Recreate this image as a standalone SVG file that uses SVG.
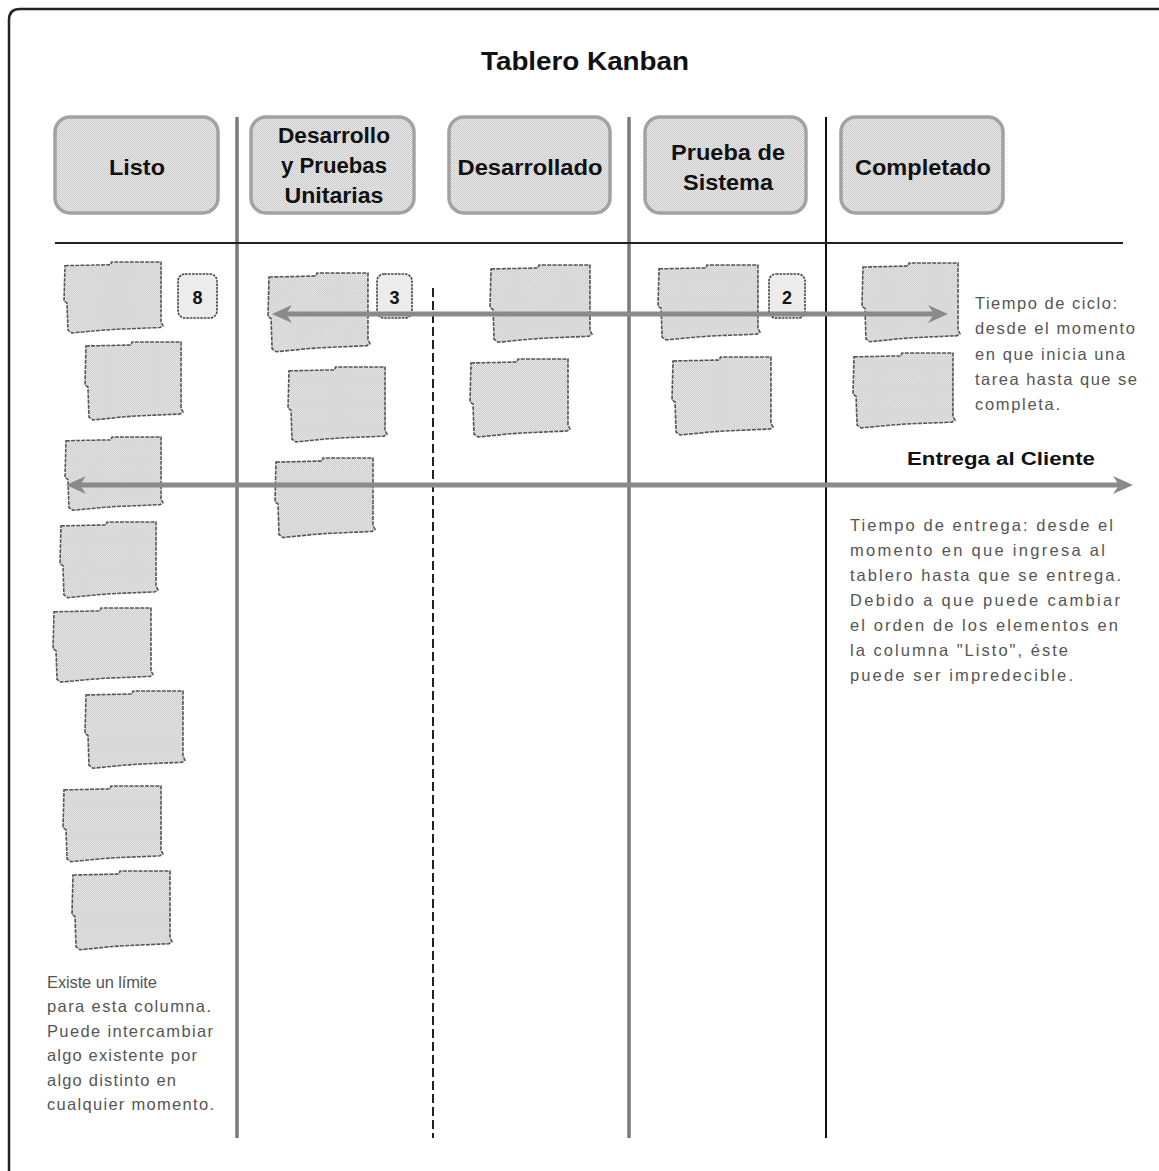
<svg xmlns="http://www.w3.org/2000/svg" xmlns:xlink="http://www.w3.org/1999/xlink" width="1159" height="1171" viewBox="0 0 1159 1171">
<style>
.hdr{fill:url(#dots);stroke:#a2a2a2;stroke-width:3.5}
.ht{font-family:"Liberation Sans",Arial,sans-serif;font-weight:bold;font-size:22px;fill:#111;text-anchor:middle}
.card{fill:url(#dots);stroke:#555;stroke-width:1.6;stroke-dasharray:4 1.2}
.lim{fill:#ececec;stroke:#444;stroke-width:1.6;stroke-dasharray:2.5 1}
.lt{font-family:"Liberation Sans",Arial,sans-serif;font-weight:bold;font-size:18px;fill:#111;text-anchor:middle}
.note{font-family:"Liberation Sans",Arial,sans-serif;font-size:16.5px;fill:#555}
.arr{stroke:#8a8a8a;stroke-width:5;fill:none}
</style>
<defs>
<pattern id="dots" width="2" height="2" patternUnits="userSpaceOnUse">
<rect width="2" height="2" fill="#ededed"/>
<rect width="1" height="1" fill="#c6c6c6"/>
<rect x="1" y="1" width="1" height="1" fill="#c6c6c6"/>
</pattern>
<path id="cardp" d="M1,4 L47,3 L48,0 L98,0 L98,66 L100,70 L97,72 L52,74 L38,75 L8,78 L4,75 L3,45 L0,43 Z"/>
<marker id="ah" viewBox="0 0 20 18" refX="12" refY="9" markerWidth="20" markerHeight="18" markerUnits="userSpaceOnUse" orient="auto-start-reverse">
<path d="M0,0 L20,9 L0,18 L6,9 Z" fill="#8a8a8a"/>
</marker>
</defs>
<rect width="1159" height="1171" fill="#fff"/>
<path d="M9,1171 L9,20 Q9,9 20,9 L1159,9" fill="none" stroke="#222" stroke-width="2.5"/>
<text x="585" y="70" font-family="Liberation Sans,Arial,sans-serif" font-weight="bold" font-size="25" text-anchor="middle" fill="#111" textLength="208" lengthAdjust="spacingAndGlyphs">Tablero Kanban</text>

<g id="board-lines">
<line x1="237" y1="117" x2="237" y2="1138" stroke="#7a7a7a" stroke-width="3.5"/>
<line x1="629" y1="117" x2="629" y2="1138" stroke="#7a7a7a" stroke-width="3.5"/>
<line x1="826" y1="117" x2="826" y2="1138" stroke="#111" stroke-width="2"/>
<line x1="433" y1="288" x2="433" y2="1138" stroke="#222" stroke-width="2" stroke-dasharray="9 4"/>
<line x1="55" y1="243" x2="1123" y2="243" stroke="#222" stroke-width="2"/>
</g>

<g id="h-listo"><rect class="hdr" x="55" y="117" width="163" height="96" rx="15"/><text class="ht" x="137" y="175" textLength="56" lengthAdjust="spacingAndGlyphs">Listo</text></g>
<g id="h-dev"><rect class="hdr" x="251" y="117" width="163" height="96" rx="15"/><text class="ht" x="334" y="143" textLength="112" lengthAdjust="spacingAndGlyphs">Desarrollo</text><text class="ht" x="334" y="173" textLength="106" lengthAdjust="spacingAndGlyphs">y Pruebas</text><text class="ht" x="334" y="203" textLength="99" lengthAdjust="spacingAndGlyphs">Unitarias</text></g>
<g id="h-desarrollado"><rect class="hdr" x="449" y="117" width="161" height="96" rx="15"/><text class="ht" x="530" y="175" textLength="145" lengthAdjust="spacingAndGlyphs">Desarrollado</text></g>
<g id="h-prueba"><rect class="hdr" x="645" y="117" width="161" height="96" rx="15"/><text class="ht" x="728" y="160" textLength="114" lengthAdjust="spacingAndGlyphs">Prueba de</text><text class="ht" x="728" y="190" textLength="90" lengthAdjust="spacingAndGlyphs">Sistema</text></g>
<g id="h-completado"><rect class="hdr" x="841" y="117" width="162" height="96" rx="15"/><text class="ht" x="923" y="175" textLength="136" lengthAdjust="spacingAndGlyphs">Completado</text></g>

<g id="cards">
<use xlink:href="#cardp" class="card" transform="translate(64,262) scale(0.99,0.91)"/>
<use xlink:href="#cardp" class="card" transform="translate(85,342) scale(0.98,1)"/>
<use xlink:href="#cardp" class="card" transform="translate(65,437) scale(0.98,0.94)"/>
<use xlink:href="#cardp" class="card" transform="translate(60,522) scale(0.98,0.97)"/>
<use xlink:href="#cardp" class="card" transform="translate(53,608) scale(1,0.95)"/>
<use xlink:href="#cardp" class="card" transform="translate(85,691) scale(1,0.99)"/>
<use xlink:href="#cardp" class="card" transform="translate(63,786) scale(1,0.97)"/>
<use xlink:href="#cardp" class="card" transform="translate(72,871) scale(1,1.01)"/>
<use xlink:href="#cardp" class="card" transform="translate(268,273) scale(1.02,1.01)"/>
<use xlink:href="#cardp" class="card" transform="translate(288,367) scale(0.99,0.96)"/>
<use xlink:href="#cardp" class="card" transform="translate(275,458) scale(1,1.02)"/>
<use xlink:href="#cardp" class="card" transform="translate(490,265) scale(1.02,0.99)"/>
<use xlink:href="#cardp" class="card" transform="translate(470,359) scale(1,1)"/>
<use xlink:href="#cardp" class="card" transform="translate(658,265) scale(1.02,0.96)"/>
<use xlink:href="#cardp" class="card" transform="translate(672,357) scale(1.01,1)"/>
<use xlink:href="#cardp" class="card" transform="translate(862,263) scale(0.98,1.01)"/>
<use xlink:href="#cardp" class="card" transform="translate(853,353) scale(1.02,0.96)"/>
</g>

<g id="limits">
<g id="lim8"><rect class="lim" x="178" y="274" width="39" height="44" rx="7"/><text class="lt" x="197.5" y="304">8</text></g>
<g id="lim3"><rect class="lim" x="377" y="274" width="35" height="44" rx="7"/><text class="lt" x="394.5" y="304">3</text></g>
<g id="lim2"><rect class="lim" x="769" y="274" width="36" height="44" rx="7"/><text class="lt" x="787" y="304">2</text></g>
</g>

<g id="connectors">
<line class="arr" x1="280" y1="314" x2="940" y2="314" marker-start="url(#ah)" marker-end="url(#ah)"/>
<line class="arr" x1="74" y1="485" x2="1125" y2="485" marker-start="url(#ah)" marker-end="url(#ah)"/>
</g>

<g id="cycle-note">
<text class="note" x="975" y="309" textLength="142">Tiempo de ciclo:</text>
<text class="note" x="975" y="334" textLength="160">desde el momento</text>
<text class="note" x="975" y="360" textLength="150">en que inicia una</text>
<text class="note" x="975" y="385" textLength="162">tarea hasta que se</text>
<text class="note" x="975" y="410" textLength="85">completa.</text>
</g>

<text x="907" y="465" font-family="Liberation Sans,Arial,sans-serif" font-weight="bold" font-size="19" fill="#111" textLength="188" lengthAdjust="spacingAndGlyphs">Entrega al Cliente</text>

<g id="lead-note">
<text class="note" x="850" y="531" textLength="263">Tiempo de entrega: desde el</text>
<text class="note" x="850" y="556" textLength="255">momento en que ingresa al</text>
<text class="note" x="850" y="581" textLength="271">tablero hasta que se entrega.</text>
<text class="note" x="850" y="606" textLength="270">Debido a que puede cambiar</text>
<text class="note" x="850" y="631" textLength="268">el orden de los elementos en</text>
<text class="note" x="850" y="656" textLength="218">la columna "Listo", éste</text>
<text class="note" x="850" y="681" textLength="223">puede ser impredecible.</text>
</g>

<g id="limit-note">
<text class="note" x="47" y="988" textLength="110">Existe un límite</text>
<text class="note" x="47" y="1012" textLength="164">para esta columna.</text>
<text class="note" x="47" y="1037" textLength="166">Puede intercambiar</text>
<text class="note" x="47" y="1061" textLength="150">algo existente por</text>
<text class="note" x="47" y="1086" textLength="129">algo distinto en</text>
<text class="note" x="47" y="1110" textLength="167">cualquier momento.</text>
</g>
</svg>
